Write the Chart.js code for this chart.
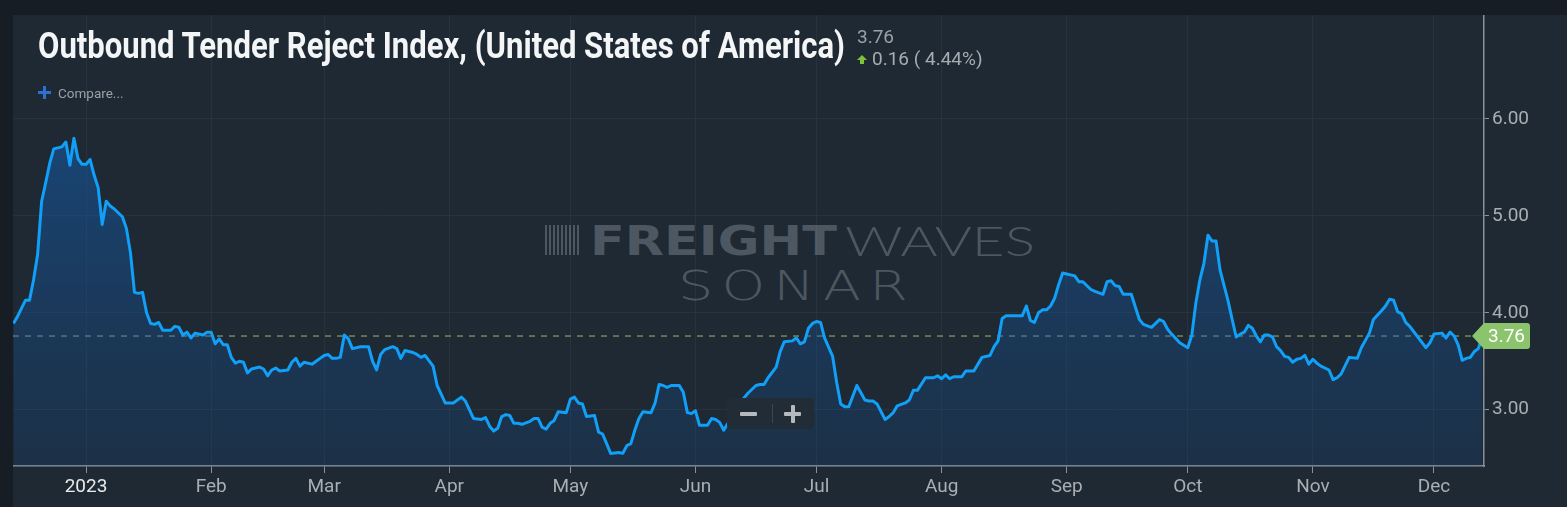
<!DOCTYPE html>
<html>
<head>
<meta charset="utf-8">
<script src="https://cdn.jsdelivr.net/npm/chart.js@4"></script>
<style>
    html, body { margin: 0; padding: 0; }
    body {
        width: 1567px; height: 507px; overflow: hidden;
        background: #161d24; position: relative;
        font-family: Roboto, "Liberation Sans", sans-serif;
    }
    #panel { position: absolute; left: 13px; top: 15px; width: 1554px; height: 492px; background: #1e2933; }
    #chartBox { position: absolute; left: 13px; top: 15px; width: 1554px; height: 492px; }
    .abs { position: absolute; white-space: nowrap; transform-origin: 0 0; }
    #title { left: 38px; top: 28px; font-size: 36px; line-height: 36px; font-weight: 700; color: #f4f5f6; }
    #lastVal { left: 857px; top: 27px; font-size: 19px; line-height: 19px; color: #9ba1a7; }
    #change { left: 872px; top: 49px; font-size: 19px; line-height: 19px; color: #a6acb2; }
    #arrow { left: 857px; top: 55px; width: 0; height: 0; border-left: 5px solid transparent; border-right: 5px solid transparent; border-bottom: 5px solid #7cc23a; }
    #arrowStem { left: 860px; top: 59px; width: 4px; height: 5px; background: #7cc23a; }
    .plusH { position: absolute; left: 38px; top: 91px; width: 13px; height: 3px; background: #2f6fd2; }
    .plusV { position: absolute; left: 43px; top: 86px; width: 3px; height: 13px; background: #2f6fd2; }
    #compare { left: 58px; top: 86px; font-size: 13.5px; line-height: 14px; color: #9ba1a7; }
    .wm { color: #4d5761; }
    #wmBars { position: absolute; left: 545px; top: 225px; width: 35px; height: 30px;
        background: repeating-linear-gradient(90deg, #4d5761 0 2px, transparent 2px 4px); }
    #wmFreight { left: 590px; top: 221px; font-family: "DejaVu Sans", sans-serif; font-weight: 700; font-size: 41px; line-height: 41px; }
    #wmWaves { left: 845px; top: 219px; font-family: Lato, "Open Sans", sans-serif; font-weight: 300; font-size: 42px; line-height: 42px; }
    #wmSonar { left: 678px; top: 266px; font-family: "DejaVu Sans", sans-serif; font-weight: 200; font-size: 41px; line-height: 41px; letter-spacing: 6px; }
    #zoomCtl { position: absolute; left: 727px; top: 398px; width: 87px; height: 31px; background: #212c36; border-radius: 4px; }
    #zoomSep { position: absolute; left: 45px; top: 6px; width: 1px; height: 19px; background: #3a4651; }
    .zbar { position: absolute; background: #b6babe; border-radius: 1px; }
</style>
</head>
<body>
<div id="panel"></div>
<div id="wmBars"></div>
<div id="wmFreight" class="abs wm">FREIGHT</div>
<div id="wmWaves" class="abs wm">WAVES</div>
<div id="wmSonar" class="abs wm">SONAR</div>
<div id="chartBox"><canvas id="chart" width="1554" height="492"></canvas></div>
<div id="title" class="abs">Outbound Tender Reject Index, (United States of America)</div>
<div id="lastVal" class="abs">3.76</div>
<div id="arrow" class="abs"></div>
<div id="arrowStem" class="abs"></div>
<div id="change" class="abs">0.16 ( 4.44%)</div>
<div class="plusH"></div><div class="plusV"></div>
<div id="compare" class="abs">Compare...</div>
<div id="zoomCtl">
    <div class="zbar" style="left:13px;top:14px;width:17px;height:4px"></div>
    <div id="zoomSep"></div>
    <div class="zbar" style="left:57px;top:14px;width:17px;height:4px"></div>
    <div class="zbar" style="left:64px;top:7px;width:4px;height:18px"></div>
</div>
<script>
// days counted from 2023-01-01 (negative = Dec 2022)
const days = [
    -18, -17, -15, -14, -13, -12, -11, -10, -9, -8, -6, -5, -4, -3, -2, -1,
    0, 1, 2, 3, 4, 5, 6, 7, 9, 10, 11, 12, 13, 14, 15, 16, 17, 18, 19, 21, 22, 23, 24, 25, 26, 27, 29, 30,
    31, 32, 33, 34, 35, 36, 37, 38, 39, 40, 41, 43, 44, 45, 46, 47, 48, 50, 51, 52, 53, 54, 56, 57, 58,
    59, 60, 61, 62, 63, 64, 65, 66, 68, 70, 71, 72, 73, 74, 76, 77, 78, 79, 81, 82, 83, 84, 86, 87, 89,
    91, 93, 94, 96, 98, 99, 100, 101, 102, 103, 104, 105, 106, 107, 108, 110, 111, 112, 113, 114, 115, 116, 117, 119,
    120, 121, 122, 123, 124, 126, 127, 128, 130, 132, 133, 134, 135, 136, 137, 138, 140, 141, 142, 143, 144, 145, 147, 148, 149, 150,
    151, 152, 154, 155, 156, 157, 158, 163, 164, 166, 167, 168, 169, 171, 172, 173, 175, 176, 177, 178, 179, 180,
    181, 182, 183, 185, 186, 187, 188, 189, 191, 193, 194, 195, 196, 198, 199, 200, 201, 203, 204, 205, 206, 208, 210, 211,
    212, 213, 214, 215, 217, 218, 220, 222, 224, 225, 226, 227, 228, 232, 233, 234, 235, 236, 237, 238, 239, 240, 241, 242,
    243, 245, 246, 247, 249, 250, 252, 253, 254, 255, 256, 257, 259, 261, 262, 264, 266, 267, 268, 269, 271, 273, 274, 275,
    276, 277, 278, 279, 280, 281, 283, 284, 285, 286, 287, 288, 289, 290, 291, 292, 293, 294, 295, 296, 297, 298, 299, 300,
    301, 302, 303, 304, 305, 306, 308, 309, 310, 311, 313, 315, 316, 318, 319, 321, 322, 323, 324, 325, 326, 327, 328, 330,
    332, 333, 334, 336, 337, 338, 339, 340, 341, 342, 343, 344, 345, 346
];
const values = [
    3.89, 3.96, 4.13, 4.13, 4.34, 4.60, 5.15, 5.34, 5.54, 5.69, 5.71, 5.76, 5.52, 5.80, 5.59, 5.53,
    5.53, 5.58, 5.42, 5.29, 4.91, 5.15, 5.10, 5.07, 4.99, 4.87, 4.62, 4.21, 4.20, 4.21, 4.00, 3.89, 3.88, 3.90, 3.82, 3.82, 3.86, 3.85, 3.77, 3.80, 3.74, 3.79, 3.77, 3.80,
    3.80, 3.68, 3.73, 3.67, 3.67, 3.54, 3.48, 3.50, 3.49, 3.38, 3.42, 3.44, 3.42, 3.35, 3.41, 3.43, 3.40, 3.41, 3.49, 3.53, 3.45, 3.49, 3.47, 3.50, 3.53,
    3.56, 3.57, 3.53, 3.53, 3.54, 3.77, 3.73, 3.63, 3.65, 3.65, 3.50, 3.41, 3.57, 3.62, 3.65, 3.63, 3.53, 3.61, 3.59, 3.57, 3.54, 3.56, 3.45, 3.25, 3.07,
    3.07, 3.13, 3.09, 2.91, 2.90, 2.92, 2.83, 2.78, 2.81, 2.93, 2.95, 2.94, 2.86, 2.86, 2.85, 2.88, 2.91, 2.91, 2.82, 2.80, 2.86, 2.89, 2.98, 2.97,
    3.11, 3.13, 3.07, 3.06, 2.93, 2.94, 2.77, 2.75, 2.55, 2.56, 2.55, 2.63, 2.65, 2.79, 2.91, 2.98, 2.97, 3.07, 3.26, 3.25, 3.23, 3.25, 3.25, 3.18, 2.97, 2.96,
    2.99, 2.84, 2.84, 2.91, 2.90, 2.87, 2.79, 3.12, 3.17, 3.25, 3.26, 3.26, 3.33, 3.44, 3.60, 3.70, 3.71, 3.74, 3.68, 3.70, 3.84, 3.89,
    3.91, 3.90, 3.74, 3.55, 3.28, 3.06, 3.03, 3.03, 3.25, 3.10, 3.09, 3.09, 3.06, 2.90, 2.93, 2.97, 3.04, 3.07, 3.10, 3.20, 3.20, 3.33, 3.33, 3.35,
    3.32, 3.36, 3.32, 3.34, 3.34, 3.40, 3.40, 3.54, 3.56, 3.65, 3.71, 3.94, 3.97, 3.97, 4.07, 3.92, 3.90, 4.00, 4.03, 4.03, 4.07, 4.15, 4.29, 4.41,
    4.40, 4.38, 4.32, 4.32, 4.24, 4.22, 4.19, 4.32, 4.33, 4.28, 4.27, 4.19, 4.19, 3.93, 3.88, 3.85, 3.93, 3.91, 3.83, 3.78, 3.69, 3.64, 3.77, 4.10,
    4.34, 4.51, 4.80, 4.74, 4.74, 4.44, 4.12, 3.93, 3.75, 3.78, 3.80, 3.87, 3.84, 3.76, 3.70, 3.77, 3.77, 3.75, 3.65, 3.61, 3.55, 3.54, 3.49, 3.52,
    3.53, 3.56, 3.47, 3.52, 3.48, 3.45, 3.41, 3.31, 3.33, 3.37, 3.54, 3.53, 3.64, 3.79, 3.93, 4.02, 4.07, 4.14, 4.13, 4.01, 3.99, 3.90, 3.86, 3.75,
    3.64, 3.69, 3.78, 3.79, 3.74, 3.80, 3.76, 3.67, 3.51, 3.53, 3.54, 3.60, 3.63, 3.76
];
const monthDays = [0, 31, 59, 90, 120, 151, 181, 212, 243, 273, 304, 334];
const monthLabels = ['2023', 'Feb', 'Mar', 'Apr', 'May', 'Jun', 'Jul', 'Aug', 'Sep', 'Oct', 'Nov', 'Dec'];
const yTicks = [3, 4, 5, 6];

// squeeze a text element to a given pixel width (condensed look)
function fitWidth(id, w) {
    const el = document.getElementById(id);
    const r = w / el.getBoundingClientRect().width;
    el.style.transform = 'scaleX(' + r + ')';
}

const lastValuePlugin = {
    id: 'lastValue',
    beforeDatasetsDraw(chart) {
        const {ctx, chartArea} = chart;
        const last = values[values.length - 1];
        const y = chart.scales.y.getPixelForValue(last);
        ctx.save();
        ctx.strokeStyle = '#6c8b5d';
        ctx.lineWidth = 1.5;
        ctx.setLineDash([6, 6]);
        ctx.beginPath();
        ctx.moveTo(chartArea.left, y);
        ctx.lineTo(chartArea.right - 12, y);
        ctx.stroke();
        ctx.restore();
    },
    afterDraw(chart) {
        const {ctx, chartArea} = chart;
        const last = values[values.length - 1];
        const y = chart.scales.y.getPixelForValue(last);
        const x = chartArea.right;
        ctx.save();
        ctx.fillStyle = '#8cc46e';
        ctx.beginPath();
        ctx.moveTo(x - 12, y);
        ctx.lineTo(x, y - 13);
        ctx.lineTo(x + 43, y - 13);
        ctx.quadraticCurveTo(x + 46, y - 13, x + 46, y - 10);
        ctx.lineTo(x + 46, y + 10);
        ctx.quadraticCurveTo(x + 46, y + 13, x + 43, y + 13);
        ctx.lineTo(x, y + 13);
        ctx.closePath();
        ctx.fill();
        ctx.fillStyle = '#ffffff';
        ctx.font = '19px Roboto, "Liberation Sans", sans-serif';
        ctx.textBaseline = 'middle';
        ctx.fillText(last.toFixed(2), x + 4, y + 1);
        ctx.restore();
    }
};

document.addEventListener('DOMContentLoaded', () => {
    fitWidth('title', 807);
    fitWidth('wmFreight', 247);
    fitWidth('wmWaves', 190);
    fitWidth('wmSonar', 238);

    const points = days.map((d, i) => ({x: d, y: values[i]}));
    const ctx = document.getElementById('chart').getContext('2d');

    new Chart(ctx, {
        type: 'line',
        data: {
            datasets: [{
                data: points,
                borderColor: '#119ff8',
                borderWidth: 3,
                pointRadius: 0,
                tension: 0,
                borderJoinStyle: 'round',
                fill: 'start',
                backgroundColor: (c) => {
                    const area = c.chart.chartArea;
                    if (!area) return 'rgba(25,85,150,0.4)';
                    const g = c.chart.ctx.createLinearGradient(0, area.top, 0, area.bottom);
                    g.addColorStop(0, 'rgba(22,100,185,0.65)');
                    g.addColorStop(1, 'rgba(22,80,150,0.2)');
                    return g;
                }
            }]
        },
        options: {
            responsive: false,
            animation: false,
            layout: {padding: 0},
            plugins: {legend: {display: false}, tooltip: {enabled: false}},
            scales: {
                x: {
                    type: 'linear',
                    min: -18.1,
                    max: 346.4,
                    afterBuildTicks: (scale) => {
                        scale.ticks = monthDays.map(v => ({value: v}));
                    },
                    afterFit: (scale) => {
                        scale.height = 41;
                        scale.paddingLeft = 0;
                        scale.paddingRight = 0;
                    },
                    ticks: {
                        autoSkip: false,
                        maxRotation: 0,
                        padding: 3,
                        font: {family: 'Roboto', size: 19},
                        color: (c) => c.index === 0 ? '#e9eaeb' : '#a9aeb3',
                        callback: (v) => monthLabels[monthDays.indexOf(v)]
                    },
                    grid: {color: 'rgba(255,255,255,0.045)', tickColor: '#8a9097', tickLength: 7},
                    border: {color: '#8a9097', width: 1.5}
                },
                y: {
                    position: 'right',
                    min: 2.42,
                    max: 7.07,
                    afterBuildTicks: (scale) => {
                        scale.ticks = yTicks.map(v => ({value: v}));
                    },
                    afterFit: (scale) => {
                        scale.width = 83;
                        scale.paddingTop = 0;
                        scale.paddingBottom = 0;
                    },
                    ticks: {
                        padding: 3,
                        font: {family: 'Roboto', size: 19},
                        color: '#a9aeb3',
                        callback: (v) => v.toFixed(2)
                    },
                    grid: {color: 'rgba(255,255,255,0.045)', tickColor: '#8a9097', tickLength: 5},
                    border: {color: '#8a9097', width: 1.5}
                }
            }
        },
        plugins: [lastValuePlugin]
    });
});
</script>
</body>
</html>
